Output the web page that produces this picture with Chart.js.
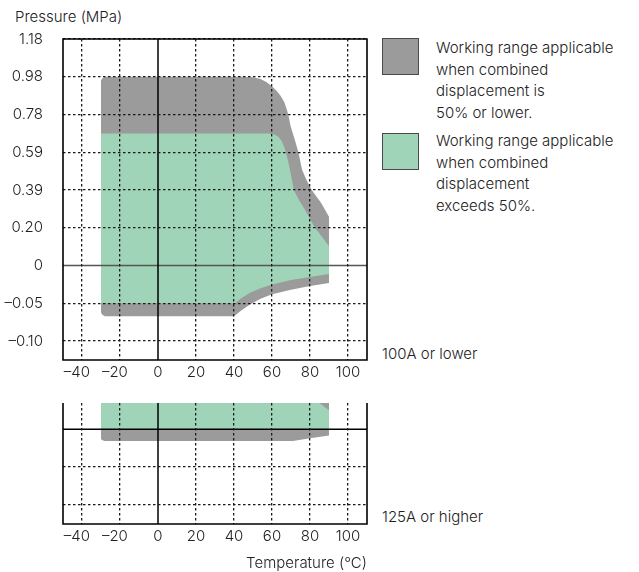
<!DOCTYPE html>
<html>
<head>
<meta charset="utf-8">
<script src="https://cdn.jsdelivr.net/npm/chart.js@4.4.1/dist/chart.umd.min.js"></script>
<style>
  body { margin: 0; background: #fff; width: 639px; height: 572px; overflow: hidden; position: relative;
         font-family: Inter, "Liberation Sans", sans-serif; font-weight: 300; color: #222; }
  canvas { position: absolute; left: 0; }
  .txt { position: absolute; font-size: 15px; line-height: 21.7px; white-space: nowrap; }
  .box { position: absolute; left: 382px; width: 35px; height: 35px; border: 1.5px solid #4a4a4a; }
</style>
</head>
<body>
<div class="txt" style="left:15px;top:7px;line-height:20px">Pressure (MPa)</div>
<canvas id="top-chart" width="380" height="392" style="top:0"></canvas>
<canvas id="bottom-chart" width="380" height="177" style="top:395px"></canvas>
<div class="box" id="box-gray" style="top:38px"></div>
<div class="txt" id="label-gray" style="left:436px;top:37px"></div>
<div class="box" id="box-green" style="top:133px"></div>
<div class="txt" id="label-green" style="left:436px;top:130px"></div>
<div class="txt" id="panel-top" style="left:382px;top:343px"></div>
<div class="txt" id="panel-bottom" style="left:382px;top:506px"></div>
<script>
// axis ticks
const tempTicks = [-40, -20, 0, 20, 40, 60, 80, 100];
const pressureTicks = [-0.10, -0.05, 0, 0.20, 0.39, 0.59, 0.78, 0.98, 1.18];

// series labels
const seriesLabels = [
  ['Working range applicable', 'when combined', 'displacement is', '50% or lower.'],
  ['Working range applicable', 'when combined', 'displacement', 'exceeds 50%.']
];
const panelLabels = ['100A or lower', '125A or higher'];
const colors = ['#9b9b9b', '#a0d4b9'];

// 100A or lower, displacement 50% or lower (outline)
const grayTemp = [-30, -29.3, -28, 44, 50, 54, 57, 60, 62.5, 64.5, 66.5, 68, 69, 69.8, 71.8, 73.9, 75.8, 78.3, 80.9, 85.8, 90,
                  90, 80, 70, 60, 54, 48.4, 44, 40, -28, -29.3, -30];
const grayPres = [0.96, 0.972, 0.98, 0.98, 0.977, 0.968, 0.952, 0.93, 0.905, 0.88, 0.845, 0.80, 0.76, 0.721, 0.66, 0.59, 0.498, 0.44, 0.39, 0.326, 0.256,
                  -0.023, -0.027, -0.032, -0.038, -0.044, -0.0515, -0.059, -0.067, -0.067, -0.065, -0.062];
// 100A or lower, displacement over 50%
const greenTemp = [-30, 58, 61, 63.3, 65, 66.3, 67.3, 68.3, 69.6, 71.5, 74.2, 77.3, 82.6, 86.1, 90,
                   90, 80, 70, 60, 54, 48.4, 44, 40.5, -30];
const greenPres = [0.684, 0.684, 0.681, 0.668, 0.648, 0.62, 0.59, 0.55, 0.49, 0.39, 0.34, 0.292, 0.20, 0.156, 0.103,
                   -0.011, -0.015, -0.019, -0.025, -0.030, -0.036, -0.043, -0.05, -0.05];
// 125A or higher
const gray2Temp = [-30, 90, 90, 80, 71, -28, -29.3, -30];
const gray2Pres = [0.14, 0.14, -0.0085, -0.012, -0.0155, -0.0155, -0.0145, -0.013];
const green2Temp = [-30, 84.7, 90, 90, -30];
const green2Pres = [0.14, 0.14, 0.10, 0, 0];

// the pressure axis is not linear: every tick label is one equal step
function toIdx(p) {
  const t = pressureTicks;
  let i = 0;
  while (i < t.length - 2 && p > t[i + 1]) i++;
  return i + (p - t[i]) / (t[i + 1] - t[i]);
}

function points(temps, pres) {
  return temps.map((x, i) => ({ x: x, y: toIdx(pres[i]) }));
}

function shape(label, temps, pres, color, order) {
  return { label: label, data: points(temps, pres), showLine: true, fill: 'shape',
    backgroundColor: color, borderWidth: 0, pointRadius: 0, order: order };
}

function zeroLine(data, color) {
  return { data: data, showLine: true, fill: false, borderColor: color,
    borderWidth: 1.5, pointRadius: 0, order: 1 };
}

const font = { family: 'Inter, "Liberation Sans", sans-serif', size: 15, weight: 300 };

const framePlugin = {
  id: 'frame',
  afterDraw(chart, args, opts) {
    const a = chart.chartArea;
    const ctx = chart.ctx;
    ctx.save();
    ctx.strokeStyle = '#000';
    ctx.lineWidth = 1.6;
    ctx.beginPath();
    if (opts.top) {
      ctx.rect(a.left, a.top, a.right - a.left, a.bottom - a.top);
    } else {
      ctx.moveTo(a.left, a.top);
      ctx.lineTo(a.left, a.bottom);
      ctx.lineTo(a.right, a.bottom);
      ctx.lineTo(a.right, a.top);
    }
    ctx.stroke();
    ctx.restore();
  }
};

function tempLabel(v) {
  // keep the digits centred on the grid line, the minus hangs to the left
  return v < 0 ? '\u2013' + Math.abs(v) + '\u2002\u2009' : String(v);
}

function xScale(height, withTitle) {
  return {
    type: 'linear', min: -50, max: 110,
    afterBuildTicks: s => { s.ticks = tempTicks.map(v => ({ value: v })); },
    afterFit: s => { s.height = height; },
    ticks: { callback: v => tempLabel(v), font: font, color: '#222', padding: 3, maxRotation: 0, autoSkip: false },
    grid: { color: c => (c.tick && c.tick.value === 0) ? 'transparent' : '#1a1a1a', lineWidth: 1.3, drawTicks: false, z: 1 },
    border: { display: false, dash: [2.5, 2.5] },
    title: { display: withTitle, text: 'Temperature (°C)', align: 'end', font: font, color: '#222', padding: { top: 0, bottom: 0 } }
  };
}

function yScale(min, max, tickIdx, showLabels) {
  return {
    type: 'linear', min: min, max: max,
    afterBuildTicks: s => { s.ticks = tickIdx.map(v => ({ value: v })); },
    afterFit: s => { s.width = 63; },
    ticks: { display: showLabels, callback: v => pressureTicks[v].toFixed(2).replace('-', '\u2013').replace(/^0\.00$/, '0'),
      font: font, color: '#222', padding: 20 },
    grid: { color: c => (c.tick && c.tick.value === 2) ? 'transparent' : '#1a1a1a', lineWidth: 1.3, drawTicks: false, z: 1 },
    border: { display: false, dash: [2.5, 2.5] }
  };
}

const baseOptions = {
  responsive: false,
  animation: false,
  plugins: { legend: { display: false }, tooltip: { enabled: false } }
};

new Chart(document.getElementById('top-chart'), {
  type: 'scatter',
  data: {
    datasets: [
      shape(seriesLabels[0].join(' '), grayTemp, grayPres, colors[0], 3),
      shape(seriesLabels[1].join(' '), greenTemp, greenPres, colors[1], 2),
      zeroLine([{ x: 0, y: -5 }, { x: 0, y: 20 }], '#000'),
      zeroLine([{ x: -100, y: toIdx(0) }, { x: 200, y: toIdx(0) }], '#555')
    ]
  },
  options: Object.assign({}, baseOptions, {
    layout: { padding: { top: 39, right: 13, left: 0, bottom: 0 } },
    scales: { x: xScale(32, false), y: yScale(-0.5, 8, [0, 1, 2, 3, 4, 5, 6, 7, 8], true) },
    plugins: Object.assign({}, baseOptions.plugins, { frame: { top: true } })
  }),
  plugins: [framePlugin]
});

new Chart(document.getElementById('bottom-chart'), {
  type: 'scatter',
  data: {
    datasets: [
      shape(seriesLabels[0].join(' '), gray2Temp, gray2Pres, colors[0], 3),
      shape(seriesLabels[1].join(' '), green2Temp, green2Pres, colors[1], 2),
      zeroLine([{ x: 0, y: -5 }, { x: 0, y: 20 }], '#000'),
      zeroLine([{ x: -100, y: toIdx(0) }, { x: 200, y: toIdx(0) }], '#000')
    ]
  },
  options: Object.assign({}, baseOptions, {
    layout: { padding: { top: 8, right: 13, left: 0, bottom: 0 } },
    scales: { x: xScale(48, true), y: yScale(-0.5, 2.69, [0, 1, 2], false) },
    plugins: Object.assign({}, baseOptions.plugins, { frame: { top: false } })
  }),
  plugins: [framePlugin]
});

// legend and panel captions
document.getElementById('box-gray').style.background = colors[0];
document.getElementById('box-green').style.background = colors[1];
document.getElementById('label-gray').innerHTML = seriesLabels[0].join('<br>');
document.getElementById('label-green').innerHTML = seriesLabels[1].join('<br>');
document.getElementById('panel-top').textContent = panelLabels[0];
document.getElementById('panel-bottom').textContent = panelLabels[1];
</script>
</body>
</html>
